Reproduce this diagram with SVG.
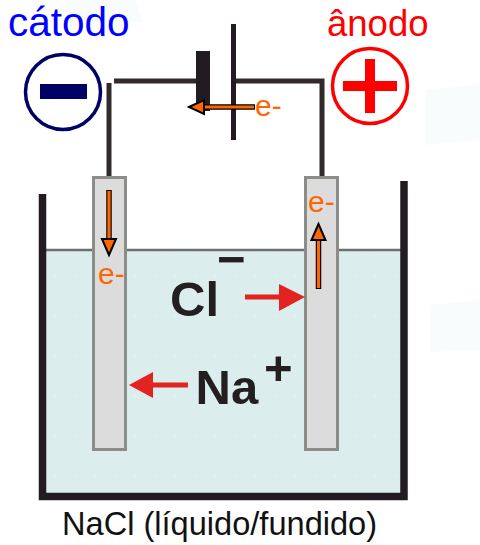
<svg xmlns="http://www.w3.org/2000/svg" width="480" height="545" viewBox="0 0 480 545">
<style>
text{font-family:"Liberation Sans",Arial,sans-serif}
.wire{fill:none;stroke:#302b2a;stroke-width:5}
.wall{fill:none;stroke:#231f20;stroke-width:7.5;stroke-linejoin:miter}
.elec{fill:#dcdcdc;stroke:#8c8c88;stroke-width:3}
.eflow{fill:none;stroke:#000;stroke-width:5.5}
.eflowc{fill:none;stroke:#ff6600;stroke-width:3.2}
.ehead{fill:#ff6600;stroke:#000;stroke-width:2;stroke-linejoin:miter}
.el{fill:#ff6600;font-size:30px}
.ion{fill:#231f20;font-weight:700;font-size:49px}
.red{fill:#e2231f}
.redl{stroke:#e2231f;stroke-width:5;fill:none}
</style>
<defs>
<filter id="soft" x="-5%" y="-5%" width="110%" height="110%"><feGaussianBlur stdDeviation="0.6"/></filter>
<pattern id="dots" width="20" height="20" patternUnits="userSpaceOnUse" x="5" y="6"><circle cx="10" cy="10" r="1" fill="#e8f2f3"/></pattern>
</defs>
<rect width="480" height="545" fill="#fff"/>
<g id="backdrop" fill="#f8fcfd">
<polygon points="65,0 135,0 143,22 70,22"/>
<polygon points="426,90 480,84 480,140 426,145"/>
<polygon points="430,305 480,300 480,350 430,352"/>
</g>
<g id="tank" filter="url(#soft)">
<rect x="44" y="250" width="358" height="245" fill="#dcedee"/>
<rect x="44" y="250" width="358" height="245" fill="url(#dots)"/>
<path d="M44 250H402" stroke="#6b6f70" stroke-width="2.5" fill="none"/>
<path class="wall" d="M42.500 194V496.500H404V181"/>
</g>
<g id="connectors" filter="url(#soft)">
<path class="wire" d="M109 176V83"/>
<path class="wire" d="M114 81H198"/>
<path class="wire" d="M236 81H322V176"/>
</g>
<g id="battery" filter="url(#soft)">
<rect x="196" y="51" width="14" height="60" fill="#231f20"/>
<rect x="231" y="24" width="5" height="116" fill="#231f20"/>
</g>
<g id="catode">
<rect class="elec" x="93.500" y="177.500" width="32" height="272" filter="url(#soft)"/>
<text x="8" y="36" fill="#0000ff" font-size="40.500px">cátodo</text>
<circle cx="63" cy="92" r="37.500" fill="#fff" stroke="#000066" stroke-width="3.500"/>
<rect x="40" y="84" width="47" height="15" fill="#000066"/>
</g>
<g id="anode">
<rect class="elec" x="305.500" y="177.500" width="32" height="272" filter="url(#soft)"/>
<text x="327" y="36" fill="#ff0000" font-size="36.500px">ânodo</text>
<circle cx="370" cy="86" r="37.500" fill="#fff" stroke="#ff0000" stroke-width="3.500"/>
<path d="M365 59h10v22h22v10h-22v22h-10v-22h-22v-10h22z" fill="#ff0000"/>
</g>
<g id="electron-flows">
<path class="eflow" d="M255 107H203M109 190V242M318.500 289V238"/>
<path class="eflowc" d="M254 107H203M109 191V242M318.500 288V238"/>
<polygon class="ehead" points="189,107 204,100 204,114"/>
<polygon class="ehead" points="109,255 102,239 116,239"/>
<polygon class="ehead" points="318.500,224 311.500,240 325.500,240"/>
<text class="el" x="255" y="116">e-</text>
<text class="el" x="98" y="284">e-</text>
<text class="el" x="308" y="212">e-</text>
</g>
<g id="ion-cl">
<text class="ion" x="170" y="316">Cl</text>
<text class="ion" x="217" y="276">−</text>
<path class="redl" d="M245 297H285"/>
<polygon class="red" points="305,297 279,284 279,311"/>
</g>
<g id="ion-na">
<text class="ion" x="195.500" y="404">Na</text>
<text class="ion" x="264" y="385">+</text>
<path class="redl" d="M188 385H150"/>
<polygon class="red" points="129,385 153,372 153,398"/>
</g>
<text id="caption" x="62" y="535" fill="#111" font-size="32.600px">NaCl (líquido/fundido)</text>
</svg>
